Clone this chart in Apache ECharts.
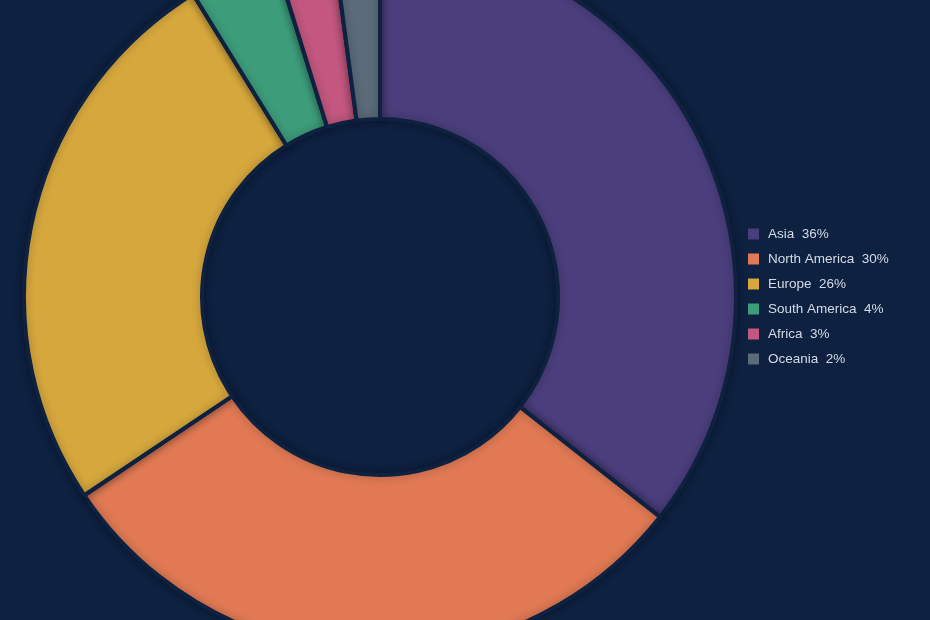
<!DOCTYPE html>
<html>
<head>
<meta charset="utf-8">
<script src="https://cdn.jsdelivr.net/npm/echarts@6/dist/echarts.min.js"></script>
<style>
html,body{margin:0;padding:0;background:#0e2141;}
#chart{width:930px;height:620px;}
</style>
</head>
<body>
<div id="chart"></div>
<script>
const regions = ['Asia', 'North America', 'Europe', 'South America', 'Africa', 'Oceania'];
const shares = [35.6, 30.0, 25.6, 4.0, 2.7, 2.1];
const colors = ['#4b3e7c', '#e07954', '#d6a73d', '#3d9d7b', '#c3577f', '#5b6b7a'];

const total = shares.reduce((a, b) => a + b, 0);
const pieData = regions.map((name, i) => ({ name: name, value: shares[i] }));

const chart = echarts.init(document.getElementById('chart'));
chart.setOption({
  backgroundColor: '#0e2141',
  color: colors,
  legend: {
    orient: 'vertical',
    left: 748,
    top: 227,
    padding: 0,
    itemWidth: 11,
    itemHeight: 11,
    itemGap: 11,
    icon: 'rect',
    itemStyle: { borderWidth: 0, shadowBlur: 0 },
    textStyle: {
      color: '#d4dbe6',
      fontSize: 13.5,
      lineHeight: 14,
      padding: [0, 0, 0, 4],
      fontFamily: 'Liberation Sans, Arial, sans-serif'
    },
    formatter: function (name) {
      const i = regions.indexOf(name);
      return name + '  ' + Math.round(shares[i] / total * 100) + '%';
    }
  },
  series: [{
    type: 'pie',
    center: [380, 297],
    radius: [178, 356],
    startAngle: 90,
    clockwise: true,
    label: { show: false },
    labelLine: { show: false },
    itemStyle: {
      borderColor: '#0e2141',
      borderWidth: 4,
      shadowBlur: 8,
      shadowColor: 'rgba(0,0,0,0.3)'
    },
    emphasis: { disabled: true },
    animation: false,
    data: pieData
  }]
});
</script>
</body>
</html>
